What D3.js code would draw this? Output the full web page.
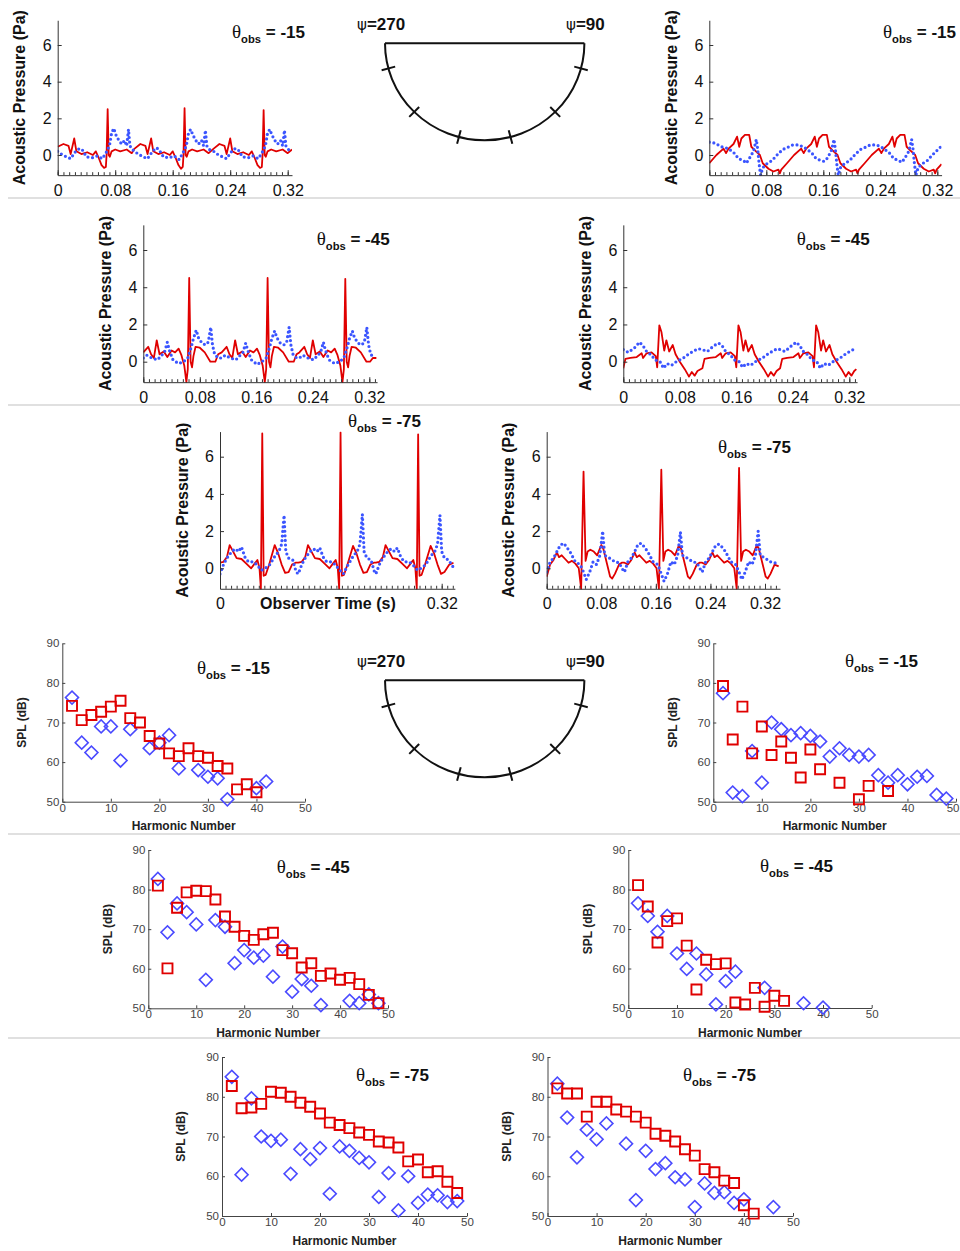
<!DOCTYPE html>
<html>
<head>
<meta charset="utf-8">
<script src="https://cdn.jsdelivr.net/npm/d3@7"></script>
<style>
  body { margin: 0; background: #fff; }
  svg { display: block; }
</style>
</head>
<body>
<svg id="fig" width="960" height="1251"></svg>
<script>
// ---------------------------------------------------------------
// Acoustic pressure time histories: [observer time (s), pressure (Pa)]
// red = solid series, blue = dotted series
// ---------------------------------------------------------------
const pres_m15_L_red = [
  [0,0.45],[0.008,0.6],[0.015,0.5],[0.018,0.05],[0.023,0.9],[0.026,0.2],[0.033,0.05],[0.041,0.15],[0.049,0],[0.053,0.2],[0.057,-0.15],[0.061,-0.55],[0.0645,-0.7],[0.067,-0.65],[0.068,0],[0.0695,2.5],[0.071,0],[0.0725,-0.1],[0.075,0.2],[0.08,0.3],[0.087,0.2],[0.096,0.3],[0.103,0.1],
  [0.107,0.35],[0.115,0.6],[0.122,0.5],[0.125,0.05],[0.13,0.9],[0.133,0.2],[0.14,0.05],[0.148,0.15],[0.156,0],[0.16,0.2],[0.164,-0.15],[0.168,-0.55],[0.1715,-0.75],[0.174,-0.65],[0.175,0],[0.1765,2.55],[0.178,0],[0.1795,-0.1],[0.182,0.2],[0.187,0.3],[0.194,0.2],[0.203,0.3],[0.21,0.1],
  [0.217,0.35],[0.225,0.6],[0.232,0.5],[0.235,0.05],[0.24,0.9],[0.243,0.2],[0.25,0.05],[0.258,0.15],[0.266,0],[0.27,0.2],[0.274,-0.15],[0.278,-0.55],[0.2815,-0.7],[0.284,-0.65],[0.285,0],[0.2865,2.45],[0.288,0],[0.2895,-0.1],[0.292,0.2],[0.297,0.3],[0.304,0.2],[0.313,0.3],[0.32,0.1],[0.326,0.3]
];
const pres_m15_L_blue = [
  [0,0.2],[0.005,0.05],[0.012,-0.1],[0.018,-0.2],[0.024,0.15],[0.03,0.35],[0.034,0.3],[0.04,-0.1],[0.048,-0.15],[0.055,-0.05],[0.062,-0.2],[0.067,0.1],[0.072,0.5],[0.075,1.2],[0.078,1.45],[0.081,1.1],[0.085,0.8],[0.089,0.6],[0.093,0.8],[0.096,0.5],[0.0985,1.4],[0.1005,0.5],[0.104,0.3],
  [0.107,0.2],[0.112,0.05],[0.119,-0.1],[0.125,-0.2],[0.131,0.15],[0.137,0.4],[0.141,0.3],[0.147,-0.1],[0.155,-0.15],[0.162,-0.05],[0.169,-0.25],[0.174,0.1],[0.179,0.5],[0.182,1.2],[0.185,1.4],[0.188,1.1],[0.192,0.8],[0.196,0.6],[0.2,0.8],[0.203,0.5],[0.2055,1.35],[0.2075,0.5],[0.211,0.3],
  [0.217,0.2],[0.222,0.05],[0.229,-0.1],[0.235,-0.2],[0.241,0.15],[0.247,0.35],[0.251,0.3],[0.257,-0.1],[0.265,-0.15],[0.272,-0.05],[0.279,-0.2],[0.284,0.1],[0.289,0.5],[0.292,1.2],[0.295,1.4],[0.298,1.1],[0.302,0.8],[0.306,0.6],[0.31,0.8],[0.313,0.5],[0.3155,1.35],[0.3175,0.5],[0.321,0.3],[0.325,0.25]
];
const pres_m15_R_red = [
  [0,-0.45],[0.01,0],[0.02,0.35],[0.0235,0.1],[0.027,0.35],[0.034,0.6],[0.039,1.0],[0.042,0.45],[0.045,0.9],[0.05,1.1],[0.056,1.1],[0.059,0.45],[0.064,0.25],[0.071,0],[0.075,-0.45],[0.083,-0.75],[0.09,-0.9],[0.097,-0.8],[0.099,-1.0],[0.101,-0.8],
  [0.109,-0.45],[0.119,0],[0.129,0.35],[0.1325,0.1],[0.136,0.35],[0.143,0.6],[0.148,1.0],[0.151,0.45],[0.154,0.9],[0.159,1.1],[0.165,1.1],[0.168,0.45],[0.173,0.25],[0.18,0],[0.184,-0.45],[0.192,-0.75],[0.199,-0.9],[0.206,-0.8],[0.208,-1.0],[0.21,-0.8],
  [0.218,-0.45],[0.228,0],[0.238,0.35],[0.2415,0.1],[0.245,0.35],[0.252,0.6],[0.257,1.0],[0.26,0.45],[0.263,0.9],[0.268,1.1],[0.274,1.1],[0.277,0.45],[0.282,0.25],[0.289,0],[0.293,-0.45],[0.301,-0.75],[0.308,-0.9],[0.315,-0.8],[0.317,-1.0],[0.319,-0.8],[0.326,-0.5]
];
const pres_m15_R_blue = [
  [0,0.7],[0.008,0.65],[0.017,0.45],[0.027,0.35],[0.035,0.1],[0.041,-0.2],[0.048,-0.3],[0.052,-0.45],[0.056,-0.2],[0.062,0.2],[0.066,0.85],[0.068,0.3],[0.07,-0.5],[0.072,-1.1],[0.075,-0.7],[0.08,-0.5],[0.088,-0.3],[0.095,0],[0.103,0.3],
  [0.109,0.4],[0.117,0.55],[0.126,0.55],[0.136,0.35],[0.144,0.1],[0.15,-0.2],[0.157,-0.3],[0.161,-0.35],[0.165,-0.2],[0.171,0.2],[0.175,0.85],[0.177,0.3],[0.179,-0.5],[0.181,-1.1],[0.184,-0.7],[0.189,-0.5],[0.197,-0.3],[0.204,0],[0.212,0.3],
  [0.218,0.4],[0.226,0.55],[0.235,0.55],[0.245,0.35],[0.253,0.1],[0.259,-0.2],[0.266,-0.3],[0.27,-0.4],[0.274,-0.2],[0.28,0.2],[0.284,0.85],[0.286,0.3],[0.288,-0.5],[0.29,-1.1],[0.293,-0.7],[0.298,-0.5],[0.306,-0.3],[0.313,0],[0.321,0.3],[0.325,0.45]
];
const pres_m45_L_red = [
  [0,0.5],[0.007,0.8],[0.011,0.4],[0.015,0.2],[0.019,1.15],[0.023,0.4],[0.029,0.55],[0.034,0.25],[0.04,0.6],[0.045,0.5],[0.05,0.7],[0.054,0.35],[0.058,-0.2],[0.061,-1.1],[0.063,-0.4],[0.065,4.5],[0.067,0],[0.069,-0.3],[0.071,0.3],[0.074,0.8],[0.08,0.75],[0.087,0.5],[0.095,0],[0.102,0],[0.106,0.4],
  [0.111,0.5],[0.118,0.8],[0.122,0.4],[0.126,0.2],[0.13,1.15],[0.134,0.4],[0.14,0.55],[0.145,0.25],[0.151,0.6],[0.156,0.5],[0.161,0.7],[0.165,0.35],[0.169,-0.2],[0.172,-1.1],[0.174,-0.4],[0.176,4.5],[0.178,0],[0.18,-0.3],[0.182,0.3],[0.185,0.8],[0.191,0.75],[0.198,0.5],[0.206,0],[0.213,0],[0.217,0.4],
  [0.221,0.5],[0.228,0.8],[0.232,0.4],[0.236,0.2],[0.24,1.15],[0.244,0.4],[0.25,0.55],[0.255,0.25],[0.261,0.6],[0.266,0.5],[0.271,0.7],[0.275,0.35],[0.279,-0.2],[0.282,-1.1],[0.284,-0.4],[0.286,4.45],[0.288,0],[0.29,-0.3],[0.292,0.3],[0.295,0.8],[0.301,0.75],[0.308,0.5],[0.316,0],[0.321,0],[0.325,0.2],[0.33,0.2]
];
const pres_m45_L_blue = [
  [0,0.2],[0.005,0.35],[0.012,0.2],[0.02,0.1],[0.03,0.5],[0.034,1.05],[0.037,0.6],[0.042,0.1],[0.05,-0.1],[0.057,0],[0.063,0.2],[0.068,0.8],[0.071,1.25],[0.075,1.7],[0.078,1.3],[0.083,1.0],[0.088,0.9],[0.092,1.05],[0.0955,1.85],[0.098,0.9],[0.101,0.4],[0.106,0.2],
  [0.111,0.2],[0.116,0.35],[0.123,0.2],[0.131,0.1],[0.141,0.5],[0.145,1.0],[0.148,0.6],[0.153,0.1],[0.161,-0.15],[0.168,0],[0.174,0.2],[0.179,0.8],[0.182,1.25],[0.186,1.65],[0.189,1.3],[0.194,1.0],[0.199,0.9],[0.203,1.05],[0.2065,1.85],[0.209,0.9],[0.212,0.4],[0.217,0.2],
  [0.221,0.2],[0.226,0.35],[0.233,0.2],[0.241,0.1],[0.251,0.5],[0.255,1.05],[0.258,0.6],[0.263,0.1],[0.271,-0.1],[0.278,0],[0.284,0.2],[0.289,0.8],[0.292,1.25],[0.296,1.65],[0.299,1.3],[0.304,1.0],[0.309,0.9],[0.313,1.05],[0.3165,1.85],[0.319,0.9],[0.322,0.4],[0.327,0.2]
];
const pres_m45_R_red = [
  [0,-0.35],[0.003,0.15],[0.01,0.2],[0.019,0.25],[0.026,0.45],[0.028,0.2],[0.033,0.45],[0.04,0.5],[0.046,0.3],[0.048,-0.3],[0.051,1.95],[0.054,1.6],[0.058,0.6],[0.061,1.15],[0.065,0.55],[0.07,0.9],[0.074,0.4],[0.08,0],[0.087,-0.4],[0.093,-0.8],[0.097,-0.55],[0.101,-0.75],[0.105,-0.5],
  [0.112,-0.35],[0.115,0.15],[0.122,0.2],[0.131,0.25],[0.138,0.45],[0.14,0.2],[0.145,0.45],[0.152,0.5],[0.158,0.3],[0.16,-0.3],[0.163,1.95],[0.166,1.6],[0.17,0.6],[0.173,1.15],[0.177,0.55],[0.182,0.9],[0.186,0.4],[0.192,0],[0.199,-0.4],[0.205,-0.8],[0.209,-0.55],[0.213,-0.75],[0.217,-0.5],
  [0.222,-0.35],[0.225,0.15],[0.232,0.2],[0.241,0.25],[0.248,0.45],[0.25,0.2],[0.255,0.45],[0.262,0.5],[0.268,0.3],[0.27,-0.3],[0.273,1.95],[0.276,1.6],[0.28,0.6],[0.283,1.15],[0.287,0.55],[0.292,0.9],[0.296,0.4],[0.302,0],[0.309,-0.4],[0.315,-0.8],[0.319,-0.55],[0.323,-0.75],[0.327,-0.5],[0.33,-0.4]
];
const pres_m45_R_blue = [
  [0,0.65],[0.007,0.5],[0.016,0.75],[0.023,1.05],[0.028,0.85],[0.033,0.55],[0.04,0.35],[0.045,0.1],[0.052,0],[0.057,-0.35],[0.062,-0.1],[0.068,-0.2],[0.075,0],[0.085,0.2],[0.094,0.45],[0.101,0.6],[0.106,0.7],
  [0.112,0.65],[0.119,0.55],[0.128,0.85],[0.135,1.0],[0.14,0.85],[0.145,0.55],[0.152,0.35],[0.157,0.1],[0.164,0],[0.169,-0.3],[0.174,-0.1],[0.18,-0.2],[0.187,0],[0.197,0.2],[0.206,0.45],[0.213,0.6],[0.218,0.7],
  [0.222,0.65],[0.229,0.55],[0.238,0.85],[0.245,1.05],[0.25,0.85],[0.255,0.55],[0.262,0.35],[0.267,0.1],[0.274,0],[0.279,-0.35],[0.284,-0.1],[0.29,-0.2],[0.297,0],[0.307,0.2],[0.316,0.45],[0.323,0.6],[0.328,0.7]
];
const pres_m75_L_red = [
  [0,0.3],[0.005,0.35],[0.01,0.6],[0.014,1.25],[0.019,0.9],[0.024,0.55],[0.031,0.5],[0.038,0.25],[0.045,0],[0.05,0.25],[0.054,0.45],[0.057,0],[0.059,-1.1],[0.061,7.25],[0.063,-0.4],[0.066,-0.35],[0.071,0.2],[0.079,1.25],[0.084,0.8],[0.089,0.2],[0.094,-0.25],[0.099,-0.2],[0.104,0.2],[0.109,0.3],
  [0.113,0.3],[0.118,0.35],[0.123,0.6],[0.127,1.25],[0.132,0.9],[0.137,0.55],[0.144,0.5],[0.151,0.25],[0.158,0],[0.163,0.25],[0.167,0.45],[0.17,0],[0.172,-1.1],[0.174,7.3],[0.176,-0.4],[0.179,-0.35],[0.184,0.2],[0.192,1.2],[0.197,0.8],[0.202,0.2],[0.207,-0.25],[0.212,-0.2],[0.217,0.2],[0.222,0.3],
  [0.225,0.3],[0.23,0.35],[0.235,0.6],[0.239,1.25],[0.244,0.9],[0.249,0.55],[0.256,0.5],[0.263,0.25],[0.27,0],[0.275,0.25],[0.279,0.45],[0.282,0],[0.284,-1.1],[0.286,7.2],[0.288,-0.4],[0.291,-0.35],[0.296,0.2],[0.304,1.2],[0.309,0.8],[0.314,0.2],[0.319,-0.3],[0.324,-0.2],[0.331,0.2],[0.337,0.3]
];
const pres_m75_L_blue = [
  [0,-0.3],[0.005,0.2],[0.01,0.55],[0.017,0.9],[0.022,1.05],[0.027,0.9],[0.031,1.15],[0.036,0.6],[0.041,0.35],[0.048,0.35],[0.053,0.2],[0.06,-0.1],[0.065,0],[0.072,0.2],[0.08,0.7],[0.085,0.9],[0.089,1.3],[0.0925,2.85],[0.095,0.9],[0.099,0.55],[0.105,0.45],[0.11,-0.2],
  [0.113,-0.3],[0.118,0.2],[0.123,0.55],[0.13,0.9],[0.135,1.05],[0.14,0.9],[0.144,1.1],[0.149,0.6],[0.154,0.35],[0.161,0.35],[0.166,0.2],[0.173,-0.1],[0.178,-0.3],[0.185,0.2],[0.193,0.7],[0.198,0.9],[0.202,1.3],[0.2055,2.9],[0.208,0.9],[0.212,0.55],[0.218,0.45],[0.223,-0.2],
  [0.225,-0.3],[0.23,0.2],[0.235,0.55],[0.242,0.9],[0.247,1.05],[0.252,0.9],[0.256,1.1],[0.261,0.6],[0.266,0.35],[0.273,0.35],[0.278,0.2],[0.285,-0.1],[0.29,0],[0.297,0.2],[0.305,0.7],[0.31,0.9],[0.314,1.3],[0.3175,2.85],[0.32,0.9],[0.324,0.55],[0.33,0.45],[0.336,0.1]
];
const pres_m75_R_red = [
  [0,-0.45],[0.005,0.2],[0.01,0.45],[0.015,0.85],[0.018,0.6],[0.022,0.7],[0.027,0.5],[0.032,0.3],[0.037,0.4],[0.042,0.25],[0.047,0],[0.0505,-1.1],[0.054,5.2],[0.057,0.4],[0.06,0.9],[0.064,1.0],[0.069,0.9],[0.074,0.7],[0.08,1.25],[0.083,1.05],[0.088,0.3],[0.093,-0.45],[0.096,-0.55],[0.1,-0.3],[0.106,0.2],[0.11,0.3],
  [0.114,0.3],[0.119,0.2],[0.124,0.45],[0.129,0.85],[0.132,0.6],[0.136,0.7],[0.141,0.5],[0.146,0.3],[0.151,0.4],[0.156,0.25],[0.161,0],[0.1645,-1.1],[0.168,5.3],[0.171,0.4],[0.174,0.9],[0.178,1.0],[0.183,0.9],[0.188,0.7],[0.194,1.25],[0.197,1.05],[0.202,0.3],[0.207,-0.45],[0.21,-0.55],[0.214,-0.3],[0.22,0.2],[0.224,0.3],
  [0.228,0.3],[0.233,0.2],[0.238,0.45],[0.243,0.85],[0.246,0.6],[0.25,0.7],[0.255,0.5],[0.26,0.3],[0.265,0.4],[0.27,0.25],[0.275,0],[0.2785,-1.1],[0.282,5.4],[0.285,0.4],[0.288,0.9],[0.292,1.0],[0.297,0.9],[0.302,0.7],[0.308,1.25],[0.311,1.05],[0.316,0.3],[0.321,-0.45],[0.324,-0.55],[0.328,-0.3],[0.334,0.2],[0.34,0.1]
];
const pres_m75_R_blue = [
  [0,-0.2],[0.005,0.35],[0.01,0.55],[0.015,0.9],[0.02,1.25],[0.025,1.35],[0.03,1.1],[0.034,0.9],[0.042,0.35],[0.049,0.2],[0.054,-0.2],[0.058,-0.6],[0.063,-0.2],[0.068,0.35],[0.073,0.2],[0.078,0.7],[0.082,2.0],[0.085,0.7],[0.092,0.55],[0.1,0.35],[0.106,0.3],[0.112,-0.1],
  [0.114,-0.2],[0.119,0.35],[0.124,0.55],[0.129,0.9],[0.134,1.3],[0.139,1.35],[0.144,1.1],[0.148,0.9],[0.156,0.35],[0.163,0.2],[0.168,-0.3],[0.172,-0.7],[0.177,-0.3],[0.182,0.35],[0.187,0.2],[0.192,0.7],[0.196,1.95],[0.199,0.7],[0.206,0.55],[0.214,0.35],[0.22,0.3],[0.226,-0.1],
  [0.228,-0.2],[0.233,0.35],[0.238,0.55],[0.243,0.9],[0.248,1.25],[0.253,1.3],[0.258,1.1],[0.262,0.9],[0.27,0.35],[0.277,0.2],[0.282,-0.2],[0.286,-0.6],[0.291,-0.2],[0.296,0.35],[0.301,0.2],[0.306,0.7],[0.31,2.0],[0.313,0.7],[0.32,0.55],[0.328,0.35],[0.334,0.3],[0.34,0.2]
];

// ---------------------------------------------------------------
// SPL spectra: [harmonic number, SPL (dB)]
// red = squares, blue = diamonds
// ---------------------------------------------------------------
const spl_m15_L_red = [[2,74.2],[4,70.6],[6,71.9],[8,72.7],[10,74.0],[12,75.5],[14,71.1],[16,70.0],[18,66.6],[20,64.7],[22,62.2],[24,61.5],[26,63.5],[28,61.5],[30,61.1],[32,59.0],[34,58.4],[36,53.1],[38,54.4],[40,52.4]];
const spl_m15_L_blue = [[2,76.3],[4,64.9],[6,62.4],[8,69.0],[10,69.0],[12,60.4],[14,68.3],[18,63.5],[20,64.9],[22,66.8],[24,58.4],[28,58.0],[30,56.3],[32,55.9],[34,50.6],[40,53.4],[42,55.1]];
const spl_m15_R_red = [[2,79.2],[4,65.7],[6,74.0],[8,62.2],[10,69.0],[12,61.8],[14,65.2],[16,61.1],[18,56.1],[20,63.2],[22,58.2],[26,54.8],[30,50.6],[32,54.0],[36,52.7]];
const spl_m15_R_blue = [[2,77.4],[4,52.3],[6,51.4],[8,62.8],[10,54.8],[12,70.0],[14,68.3],[16,66.8],[18,67.3],[20,66.6],[22,65.2],[24,61.4],[26,63.5],[28,61.8],[30,61.4],[32,61.8],[34,56.7],[36,54.8],[38,56.7],[40,54.4],[42,56.3],[44,56.5],[46,51.7],[48,50.8]];
const spl_m45_L_red = [[2,81.0],[4,60.1],[6,75.4],[8,79.3],[10,79.7],[12,79.6],[14,77.5],[16,73.2],[18,70.6],[20,68.3],[22,67.3],[24,68.7],[26,69.1],[28,64.7],[30,63.9],[32,60.3],[34,61.4],[36,58.2],[38,58.8],[40,57.2],[42,57.7],[44,56.1],[46,53.4],[48,51.3]];
const spl_m45_L_blue = [[2,82.7],[4,69.2],[6,76.5],[8,74.3],[10,71.2],[12,57.2],[14,72.3],[16,70.6],[18,61.4],[20,64.7],[22,62.8],[24,63.3],[26,58.0],[28,65.6],[30,54.2],[32,57.4],[34,55.7],[36,50.8],[42,51.9],[44,51.3],[46,53.5],[48,51.3]];
const spl_m45_R_red = [[2,81.1],[4,75.7],[6,66.6],[8,72.0],[10,72.7],[12,65.8],[14,54.7],[16,62.2],[18,61.1],[20,61.3],[22,51.4],[24,50.9],[26,55.1],[28,50.3],[30,53.1],[32,51.8]];
const spl_m45_R_blue = [[2,76.5],[4,73.3],[6,69.3],[8,73.3],[10,63.8],[12,59.9],[14,63.8],[16,58.5],[18,50.9],[20,56.8],[22,59.2],[28,55.1],[36,51.2],[40,50.1]];
const spl_m75_L_red = [[2,82.7],[4,77.1],[6,77.3],[8,78.2],[10,81.25],[12,81.0],[14,80.0],[16,78.5],[18,77.5],[20,75.8],[22,73.5],[24,72.9],[26,72.1],[28,71.0],[30,70.4],[32,68.75],[34,68.5],[36,67.25],[38,63.75],[40,64.2],[42,61.0],[44,61.25],[46,58.6],[48,55.8]];
const spl_m75_L_blue = [[2,85.0],[4,60.4],[6,79.6],[8,70.0],[10,68.9],[12,69.2],[14,60.6],[16,66.8],[18,64.3],[20,67.1],[22,55.6],[24,67.5],[26,66.4],[28,64.6],[30,63.5],[32,54.8],[34,60.8],[36,51.4],[38,60.0],[40,53.3],[42,55.4],[44,55.2],[46,53.5],[48,53.75]];
const spl_m75_R_red = [[2,82.1],[4,80.8],[6,80.8],[8,75.0],[10,78.75],[12,78.75],[14,76.8],[16,76.25],[18,75.0],[20,73.5],[22,70.7],[24,70.2],[26,68.75],[28,66.8],[30,65.2],[32,61.8],[34,61.0],[36,58.9],[38,58.3],[40,52.7],[42,50.6]];
const spl_m75_R_blue = [[2,83.3],[4,74.75],[6,64.75],[8,71.7],[10,69.3],[12,73.3],[16,68.2],[18,54.0],[20,66.4],[22,61.8],[24,63.3],[26,59.75],[28,59.2],[30,52.25],[32,58.2],[34,55.8],[36,56.0],[38,53.3],[40,54.2],[46,52.25]];

// Axis ticks and labels
const timeTicks = [0, 0.08, 0.16, 0.24, 0.32];
const timeTicksShort = [0, 0.32];
const pressureTicks = [0, 2, 4, 6];
const pressureDomain = [-1.1, 7.35];
const harmonicTicks = [0, 10, 20, 30, 40, 50];
const splTicks = [50, 60, 70, 80, 90];
const observerAngles = [15, 45, 75];
const sweepLabels = ["270", "90"];

// ---------------------------------------------------------------
const SANS = "'Liberation Sans', Arial, Helvetica, sans-serif";
const SERIF = "'Liberation Serif', 'Times New Roman', serif";
const RED = "#e00000";
const BLUE = "#3b55ff";
const DIAMOND = "#4a4aff";
const WIDTH = 960;
const svg = d3.select("#fig");

// light separators between figure rows
[198, 405, 834, 1038].forEach(yy => {
  svg.append("line").attr("x1", 8).attr("x2", WIDTH).attr("y1", yy).attr("y2", yy)
    .attr("stroke", "#d6d6d6").attr("stroke-width", 1.6);
});

function thetaLabel(x, y, value, size) {
  const t = svg.append("text").attr("x", x).attr("y", y)
    .attr("fill", "#111").style("white-space", "pre");
  t.append("tspan").attr("font-family", SERIF).attr("font-size", size + 2).text("θ");
  t.append("tspan").attr("font-family", SANS).attr("font-weight", "bold")
    .attr("font-size", size * 0.66).attr("dy", size * 0.32).text("obs");
  t.append("tspan").attr("font-family", SANS).attr("font-weight", "bold")
    .attr("font-size", size).attr("dy", -size * 0.32).text(" = " + value);
}

// keep tick labels that sit at the right page edge inside the page
function keepInside(axisG, x) {
  axisG.selectAll(".tick").each(function (d) {
    const txt = d3.select(this).select("text");
    const w = txt.node().getComputedTextLength();
    const over = x(d) + w / 2 - (WIDTH - 1);
    if (over > 0) txt.attr("dx", -over);
  });
}

// ---------------- pressure time-history panels ----------------
const pressurePanels = [
  { id: "p1", red: pres_m15_L_red, blue: pres_m15_L_blue, theta: "-15", x0: 57.7, x32: 287.7, y0: 155, y6: 45, tMax: 0.326, tx: 232, ty: 38, ticks: timeTicks },
  { id: "p2", red: pres_m15_R_red, blue: pres_m15_R_blue, theta: "-15", x0: 709.3, x32: 937.3, y0: 155, y6: 45, tMax: 0.326, tx: 883, ty: 38, ticks: timeTicks },
  { id: "p3", red: pres_m45_L_red, blue: pres_m45_L_blue, theta: "-45", x0: 143.3, x32: 369.3, y0: 361.7, y6: 250, tMax: 0.331, tx: 316.7, ty: 245, ticks: timeTicks },
  { id: "p4", red: pres_m45_R_red, blue: pres_m45_R_blue, theta: "-45", x0: 623.3, x32: 849.3, y0: 361.7, y6: 250, tMax: 0.331, tx: 796.7, ty: 245, ticks: timeTicks },
  { id: "p5", red: pres_m75_L_red, blue: pres_m75_L_blue, theta: "-75", x0: 220, x32: 441.7, y0: 568.3, y6: 456.7, tMax: 0.339, tx: 348, ty: 427, ticks: timeTicksShort, title: "Observer Time (s)" },
  { id: "p6", red: pres_m75_R_red, blue: pres_m75_R_blue, theta: "-75", x0: 546.7, x32: 765, y0: 568.3, y6: 456.7, tMax: 0.342, tx: 718, ty: 453, ticks: timeTicks }
];

pressurePanels.forEach(p => {
  const kx = (p.x32 - p.x0) / 0.32;
  const x = d3.scaleLinear().domain([0, p.tMax]).range([p.x0, p.x0 + kx * p.tMax]);
  const ky = (p.y0 - p.y6) / 6;
  const y = d3.scaleLinear().domain(pressureDomain)
    .range([p.y0 - pressureDomain[0] * ky, p.y0 - pressureDomain[1] * ky]);
  const [xL, xR] = x.range();
  const [yB, yT] = y.range();

  svg.append("clipPath").attr("id", "clip-" + p.id).append("rect")
    .attr("x", xL).attr("y", yT).attr("width", xR - xL).attr("height", yB - yT + 1);

  const g = svg.append("g");
  const line = d3.line().x(d => x(d[0])).y(d => y(d[1]));

  g.append("path").datum(p.red).attr("d", line)
    .attr("clip-path", `url(#clip-${p.id})`)
    .attr("fill", "none").attr("stroke", RED).attr("stroke-width", 1.8)
    .attr("stroke-linejoin", "round");
  g.append("path").datum(p.blue).attr("d", line)
    .attr("clip-path", `url(#clip-${p.id})`)
    .attr("fill", "none").attr("stroke", BLUE).attr("stroke-width", 3.2)
    .attr("stroke-linecap", "round").attr("stroke-dasharray", "0 4.6");

  // bottom axis: minor ticks, then labelled ticks
  const minor = d3.range(0, p.tMax + 1e-9, 0.008);
  svg.append("g").attr("transform", `translate(0,${yB})`)
    .call(d3.axisBottom(x).tickValues(minor).tickSize(-3).tickSizeOuter(0).tickFormat(""))
    .call(a => a.select(".domain").remove())
    .call(a => a.selectAll("line").attr("stroke", "#333"));
  svg.append("g").attr("transform", `translate(0,${yB})`)
    .call(d3.axisBottom(x).tickValues(p.ticks).tickSize(-5).tickSizeOuter(0).tickPadding(9)
      .tickFormat(d => d === 0 ? "0" : d.toFixed(2)))
    .call(a => a.select(".domain").attr("stroke", "#333"))
    .call(a => a.selectAll("line").attr("stroke", "#333"))
    .call(a => a.selectAll("text").attr("font-family", SANS).attr("font-size", 16).attr("fill", "#111"));

  // left axis
  svg.append("g").attr("transform", `translate(${xL},0)`)
    .call(d3.axisLeft(y).tickValues(pressureTicks).tickSize(-4).tickSizeOuter(0).tickPadding(6).tickFormat(d3.format("d")))
    .call(a => a.select(".domain").attr("stroke", "#333"))
    .call(a => a.selectAll("line").attr("stroke", "#333"))
    .call(a => a.selectAll("text").attr("font-family", SANS).attr("font-size", 16).attr("fill", "#111"));

  svg.append("text")
    .attr("transform", `translate(${xL - 38},${(yB + yT) / 2}) rotate(-90)`)
    .attr("text-anchor", "middle").attr("dy", "0.35em")
    .attr("font-family", SANS).attr("font-weight", "bold").attr("font-size", 16).attr("fill", "#111")
    .text("Acoustic Pressure (Pa)");

  if (p.title) {
    svg.append("text").attr("x", (x(0) + x(0.32)) / 2 - 3).attr("y", yB + 20.5)
      .attr("text-anchor", "middle").attr("font-family", SANS).attr("font-weight", "bold")
      .attr("font-size", 16).attr("fill", "#111").text(p.title);
  }
  thetaLabel(p.tx, p.ty, p.theta, 17);
});

// ---------------- SPL spectrum panels ----------------
const splPanels = [
  { red: spl_m15_L_red, blue: spl_m15_L_blue, theta: "-15", x0: 62.3, x50: 305, y90: 643.3, y50: 801.7, tx: 197, ty: 674 },
  { red: spl_m15_R_red, blue: spl_m15_R_blue, theta: "-15", x0: 713.3, x50: 956, y90: 643.3, y50: 801.7, tx: 845, ty: 667 },
  { red: spl_m45_L_red, blue: spl_m45_L_blue, theta: "-45", x0: 148.3, x50: 388, y90: 850, y50: 1008.3, tx: 276.7, ty: 873 },
  { red: spl_m45_R_red, blue: spl_m45_R_blue, theta: "-45", x0: 628.3, x50: 871.7, y90: 850, y50: 1008, tx: 760, ty: 872 },
  { red: spl_m75_L_red, blue: spl_m75_L_blue, theta: "-75", x0: 222, x50: 467, y90: 1057, y50: 1216, tx: 356, ty: 1081 },
  { red: spl_m75_R_red, blue: spl_m75_R_blue, theta: "-75", x0: 547.5, x50: 793, y90: 1057, y50: 1216, tx: 683, ty: 1081 }
];

const squareSym = d3.symbol(d3.symbolSquare, 100);
const diamondSym = d3.symbol(d3.symbolSquare, 84);

splPanels.forEach(s => {
  const x = d3.scaleLinear().domain([0, 50]).range([s.x0, s.x50]);
  const y = d3.scaleLinear().domain([50, 90]).range([s.y50, s.y90]);

  const xAxisG = svg.append("g").attr("transform", `translate(0,${s.y50})`)
    .call(d3.axisBottom(x).tickValues(harmonicTicks).tickSize(-3).tickSizeOuter(0).tickPadding(2))
    .call(a => a.select(".domain").attr("stroke", "#444"))
    .call(a => a.selectAll("line").attr("stroke", "#444"))
    .call(a => a.selectAll("text").attr("font-family", SANS).attr("font-size", 11.5).attr("fill", "#444"));
  keepInside(xAxisG, x);
  svg.append("g").attr("transform", `translate(${s.x0},0)`)
    .call(d3.axisLeft(y).tickValues(splTicks).tickSize(-3).tickSizeOuter(0).tickPadding(3))
    .call(a => a.select(".domain").attr("stroke", "#444"))
    .call(a => a.selectAll("line").attr("stroke", "#444"))
    .call(a => a.selectAll("text").attr("font-family", SANS).attr("font-size", 11.5).attr("fill", "#444"));

  const g = svg.append("g");
  g.selectAll(".dia").data(s.blue).join("path")
    .attr("d", diamondSym)
    .attr("transform", d => `translate(${x(d[0])},${y(d[1])}) rotate(45)`)
    .attr("fill", "none").attr("stroke", DIAMOND).attr("stroke-width", 1.6);
  g.selectAll(".sq").data(s.red).join("path")
    .attr("d", squareSym)
    .attr("transform", d => `translate(${x(d[0])},${y(d[1])})`)
    .attr("fill", "none").attr("stroke", RED).attr("stroke-width", 1.9);

  svg.append("text")
    .attr("transform", `translate(${s.x0 - 41},${(s.y50 + s.y90) / 2}) rotate(-90)`)
    .attr("text-anchor", "middle").attr("dy", "0.35em")
    .attr("font-family", SANS).attr("font-weight", "bold").attr("font-size", 12).attr("fill", "#222")
    .text("SPL (dB)");
  svg.append("text").attr("x", (s.x0 + s.x50) / 2).attr("y", s.y50 + 28.5)
    .attr("text-anchor", "middle").attr("font-family", SANS).attr("font-weight", "bold")
    .attr("font-size", 12).attr("fill", "#222").text("Harmonic Number");

  thetaLabel(s.tx, s.ty, s.theta, 17);
});

// ---------------- rotor sweep sketches ----------------
[{ cy: 43.3, ly: 30 }, { cy: 680.3, ly: 667 }].forEach(d => {
  const cx = 484.7, rx = 99.7, ry = 97;
  const g = svg.append("g");
  g.append("path")
    .attr("d", `M${cx + rx},${d.cy} L${cx - rx},${d.cy} M${cx + rx},${d.cy} A${rx},${ry} 0 0 1 ${cx - rx},${d.cy}`)
    .attr("fill", "none").attr("stroke", "#111").attr("stroke-width", 2);
  const marks = [];
  observerAngles.forEach(a => { marks.push(a); marks.push(180 - a); });
  marks.forEach(a => {
    const r = a * Math.PI / 180;
    const px = cx + rx * Math.cos(r), py = d.cy + ry * Math.sin(r);
    const ux = Math.cos(r), uy = Math.sin(r);
    g.append("line")
      .attr("x1", px - ux * 7).attr("y1", py - uy * 7)
      .attr("x2", px + ux * 7).attr("y2", py + uy * 7)
      .attr("stroke", "#111").attr("stroke-width", 2);
  });
  [[357, sweepLabels[0]], [566, sweepLabels[1]]].forEach(([lx, txt]) => {
    const t = g.append("text").attr("x", lx).attr("y", d.ly).attr("fill", "#111");
    t.append("tspan").attr("font-family", "'DejaVu Sans', sans-serif").attr("font-size", 15).text("ψ");
    t.append("tspan").attr("font-family", SANS).attr("font-weight", "bold").attr("font-size", 17).text("=" + txt);
  });
});
</script>
</body>
</html>
